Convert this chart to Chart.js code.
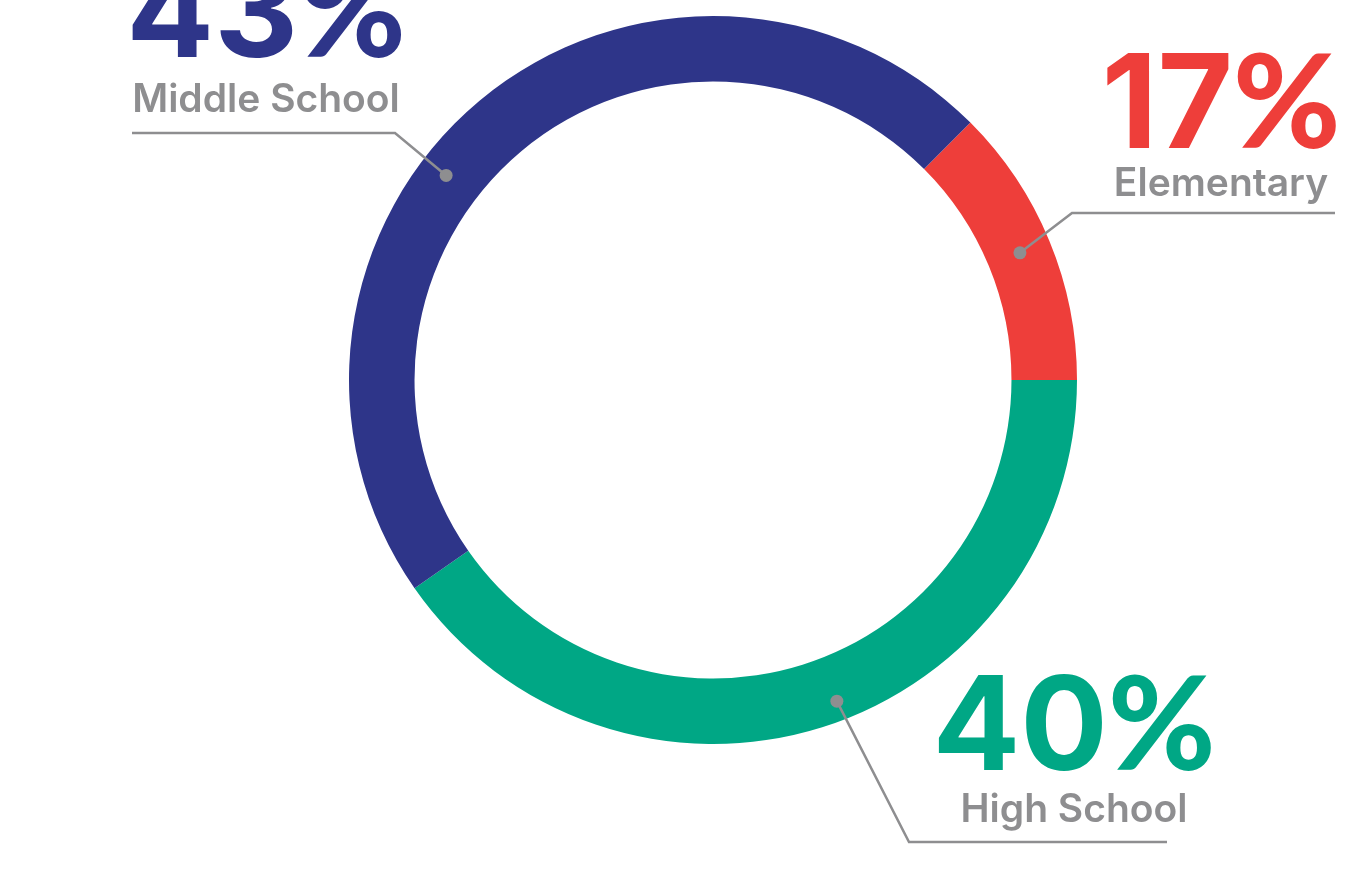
<!DOCTYPE html>
<html>
<head>
<meta charset="utf-8">
<script src="https://cdn.jsdelivr.net/npm/chart.js@4.4.1/dist/chart.umd.min.js"></script>
<style>
  html, body { margin: 0; padding: 0; background: #fff; overflow: hidden; }
  #wrap { width: 1349px; height: 876px; position: relative; }
</style>
</head>
<body>
<div id="wrap"><canvas id="schoolChart" width="1349" height="876"></canvas></div>
<script>
// datos del gráfico (ángulos, etiquetas tal cual aparecen)
const categories = ['Elementary', 'High School', 'Middle School'];
const arcValues = [12.5, 40.3, 47.2];
const percentLabels = ['17%', '40%', '43%'];
const sliceColors = ['#EE3E3A', '#00A785', '#2E3589'];

// posición de las anotaciones, relativa al centro del anillo
const callouts = [
  { frac: 0.50, rOff: 1, elbow: [359, -167], endX: 622, textX: 508, pctY: -232, labY: -184 },
  { frac: 0.475, rOff: 13, elbow: [196, 462], endX: 454, textX: 361, pctY: 390, labY: 442 },
  { frac: 0.426, rOff: 5, elbow: [-318, -247], endX: -581, textX: -447, pctY: -323, labY: -268 }
];

const DIGIT_FONT = '700 130px Inter';
const SIGN_FONT = '900 130px Lato';

// dibuja el número y el signo % centrados juntos
function drawPercent(ctx, text, cx, y) {
  const num = text.replace('%', '');
  ctx.font = DIGIT_FONT;
  const wNum = ctx.measureText(num).width;
  ctx.font = SIGN_FONT;
  const wSign = ctx.measureText('%').width;
  const x0 = cx - (wNum + wSign) / 2;
  ctx.textAlign = 'left';
  ctx.font = DIGIT_FONT;
  ctx.fillText(num, x0, y);
  ctx.font = SIGN_FONT;
  ctx.fillText('%', x0 + wNum, y);
}

const calloutPlugin = {
  id: 'callouts',
  afterDraw(chart) {
    const ctx = chart.ctx;
    const meta = chart.getDatasetMeta(0);
    meta.data.forEach((arc, i) => {
      const p = arc.getProps(['x', 'y', 'startAngle', 'endAngle', 'innerRadius', 'outerRadius'], true);
      const c = callouts[i];
      const a = p.startAngle + c.frac * (p.endAngle - p.startAngle);
      const r = (p.innerRadius + p.outerRadius) / 2 + c.rOff;
      const dx = p.x + Math.cos(a) * r;
      const dy = p.y + Math.sin(a) * r;
      const ex = p.x + c.elbow[0], ey = p.y + c.elbow[1];

      ctx.save();
      ctx.strokeStyle = '#8E8E90';
      ctx.lineWidth = 2.5;
      ctx.beginPath();
      ctx.moveTo(dx, dy);
      ctx.lineTo(ex, ey);
      ctx.lineTo(p.x + c.endX, ey);
      ctx.stroke();

      ctx.fillStyle = '#8E8E90';
      ctx.beginPath();
      ctx.arc(dx, dy, 6.5, 0, Math.PI * 2);
      ctx.fill();

      ctx.textBaseline = 'alphabetic';
      ctx.fillStyle = sliceColors[i];
      drawPercent(ctx, percentLabels[i], p.x + c.textX, p.y + c.pctY);

      ctx.textAlign = 'center';
      ctx.fillStyle = '#8E8E90';
      ctx.font = '600 39px Inter';
      ctx.fillText(categories[i], p.x + c.textX, p.y + c.labY);
      ctx.restore();
    });
  }
};

new Chart(document.getElementById('schoolChart'), {
  type: 'doughnut',
  data: {
    labels: categories,
    datasets: [{
      data: arcValues,
      backgroundColor: sliceColors,
      borderWidth: 0
    }]
  },
  options: {
    responsive: false,
    animation: false,
    rotation: 45,
    cutout: '82%',
    layout: { padding: { left: 349, right: 272, top: 16, bottom: 132 } },
    plugins: {
      legend: { display: false },
      tooltip: { enabled: false }
    }
  },
  plugins: [calloutPlugin]
});
</script>
</body>
</html>
